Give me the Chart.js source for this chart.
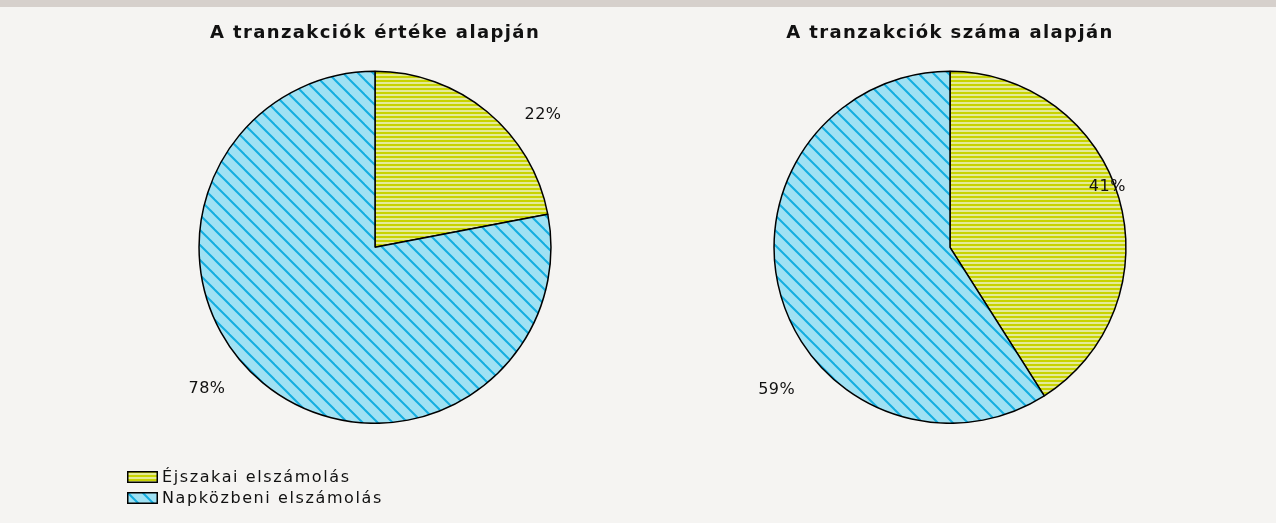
<!DOCTYPE html>
<html>
<head>
<meta charset="utf-8">
<script src="https://cdn.jsdelivr.net/npm/chart.js@4.4.1/dist/chart.umd.min.js"></script>
<style>
  html, body { margin: 0; padding: 0; }
  body { width: 1276px; height: 523px; background: #f5f4f2; position: relative; overflow: hidden; font-family: "DejaVu Sans", sans-serif; }
  #topbar { position: absolute; left: 0; top: 0; width: 1276px; height: 7px; background: #d6d0cc; }
  .box { position: absolute; }
  #legend { position: absolute; left: 127px; top: 466px; font-size: 16px; letter-spacing: 1.6px; color: #111; line-height: 21px; }
  .item { display: flex; align-items: center; height: 21px; }
  .item canvas { margin-right: 4px; }
</style>
</head>
<body>
<div id="topbar"></div>
<div class="box" style="left:95px;top:20px;width:560px;height:404px;"><canvas id="c1"></canvas></div>
<div class="box" style="left:670px;top:20px;width:560px;height:404px;"><canvas id="c2"></canvas></div>
<div id="legend"></div>
<script>
// ---- data ----
const categories = ["Éjszakai elszámolás", "Napközbeni elszámolás"];
const valueShares = [22, 78];   // A tranzakciók értéke alapján
const countShares = [41, 59];   // A tranzakciók száma alapján
const chartTitles = ["A tranzakciók értéke alapján", "A tranzakciók száma alapján"];

// ---- patterns ----
function stripePattern(ctx) {
  const c = document.createElement('canvas');
  c.width = 4; c.height = 4;
  const g = c.getContext('2d');
  g.fillStyle = '#e4ea98'; g.fillRect(0, 0, 4, 4);
  g.fillStyle = '#c8d300'; g.fillRect(0, 0, 4, 2);
  return ctx.createPattern(c, 'repeat');
}
function diagPattern(ctx) {
  const s = 15;
  const c = document.createElement('canvas');
  c.width = s; c.height = s;
  const g = c.getContext('2d');
  g.fillStyle = '#9fe1f3'; g.fillRect(0, 0, s, s);
  g.strokeStyle = '#13ade0'; g.lineWidth = 2;
  [[0,0,s,s],[-s,0,0,s],[0,-s,s,0]].forEach(l => {
    g.beginPath(); g.moveTo(l[0]-2, l[1]-2); g.lineTo(l[2]+2, l[3]+2); g.stroke();
  });
  return ctx.createPattern(c, 'repeat');
}

// label nudges (style only)
const labelNudges = [
  [[39, 23], [-39, -14]],
  [[-37, -4], [21, 86]]
];

const spacingPlugin = {
  id: 'titleSpacing',
  beforeDraw(chart) { chart.ctx.letterSpacing = '1.4px'; },
  afterDraw(chart) { chart.ctx.letterSpacing = '0px'; }
};

function labelPlugin(idx) {
  return {
    id: 'pctLabels' + idx,
    afterDatasetsDraw(chart) {
      const ctx = chart.ctx;
      const meta = chart.getDatasetMeta(0);
      const data = chart.data.datasets[0].data;
      ctx.save();
      ctx.letterSpacing = '0.5px';
      ctx.font = '16px "DejaVu Sans", sans-serif';
      ctx.fillStyle = '#111';
      ctx.textAlign = 'center';
      ctx.textBaseline = 'middle';
      meta.data.forEach((arc, i) => {
        const p = arc.getProps(['x', 'y', 'startAngle', 'endAngle', 'outerRadius'], true);
        const mid = (p.startAngle + p.endAngle) / 2;
        const r = p.outerRadius * 1.15;
        const n = labelNudges[idx][i];
        ctx.fillText(data[i] + '%', p.x + Math.cos(mid) * r + n[0], p.y + Math.sin(mid) * r + n[1]);
      });
      ctx.restore();
    }
  };
}

function makePie(id, values, title, idx) {
  const ctx = document.getElementById(id).getContext('2d');
  return new Chart(ctx, {
    type: 'pie',
    data: {
      labels: categories,
      datasets: [{
        data: values,
        backgroundColor: [stripePattern(ctx), diagPattern(ctx)],
        borderColor: '#000',
        borderWidth: 1.5,
        borderAlign: 'center'
      }]
    },
    options: {
      responsive: true,
      maintainAspectRatio: false,
      animation: false,
      events: [],
      rotation: 0,
      layout: { padding: 0 },
      plugins: {
        legend: { display: false },
        tooltip: { enabled: false },
        title: {
          display: true,
          text: title,
          color: '#111',
          font: { family: '"DejaVu Sans", sans-serif', size: 18, weight: 'bold', lineHeight: 1.2 },
          padding: { top: 3, bottom: 26 }
        }
      }
    },
    plugins: [spacingPlugin, labelPlugin(idx)]
  });
}

makePie('c1', valueShares, chartTitles[0], 0);
makePie('c2', countShares, chartTitles[1], 1);

// ---- legend ----
const legend = document.getElementById('legend');
categories.forEach((name, i) => {
  const item = document.createElement('div');
  item.className = 'item';
  const sw = document.createElement('canvas');
  sw.width = 31; sw.height = 12;
  const g = sw.getContext('2d');
  g.fillStyle = i === 0 ? stripePattern(g) : diagPattern(g);
  g.fillRect(0, 0, 31, 12);
  g.strokeStyle = '#000'; g.lineWidth = 1.5;
  g.strokeRect(0.75, 0.75, 29.5, 10.5);
  item.appendChild(sw);
  const t = document.createElement('span');
  t.textContent = name;
  item.appendChild(t);
  legend.appendChild(item);
});
</script>
</body>
</html>
